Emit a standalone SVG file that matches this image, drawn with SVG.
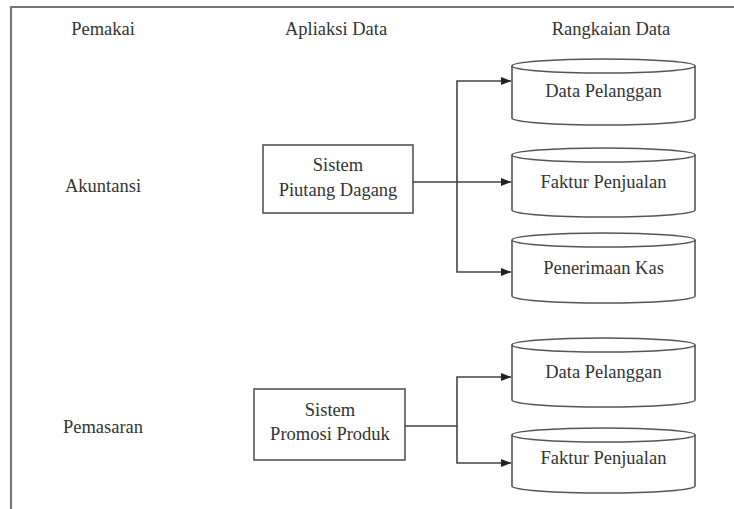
<svg xmlns="http://www.w3.org/2000/svg" width="734" height="509" viewBox="0 0 734 509">
<defs>
<style>
.t{font-size:18.5px;fill:#333;text-anchor:middle}
.shape{fill:#fff;stroke:#555;stroke-width:1.6}
.conn{fill:none;stroke:#444;stroke-width:1.6}
.frame{fill:none;stroke:#777;stroke-width:2.2}
</style>
<marker id="arr" viewBox="0 0 10 10" refX="10" refY="5" markerWidth="10" markerHeight="10" markerUnits="userSpaceOnUse" orient="auto">
<path d="M0,1 L10,5 L0,9 Z" fill="#222"/>
</marker>
</defs>
<rect width="734" height="509" fill="#fff"/>
<path class="frame" d="M11,509 V7 H734"/>
<g font-family="Liberation Serif, Times New Roman, serif">
<g id="headers">
<text class="t" x="103" y="35">Pemakai</text>
<text class="t" x="336" y="35">Apliaksi Data</text>
<text class="t" x="611" y="35">Rangkaian Data</text>
</g>

<g id="akuntansi"><text class="t" x="103" y="192">Akuntansi</text></g>
<g id="pemasaran"><text class="t" x="103" y="433">Pemasaran</text></g>

<g id="sistem-piutang">
<rect class="shape" x="263" y="145" width="150" height="68"/>
<text class="t" x="338" y="171">Sistem</text>
<text class="t" x="338" y="196">Piutang Dagang</text>
</g>

<g id="sistem-promosi">
<rect class="shape" x="254" y="389" width="151" height="71"/>
<text class="t" x="330" y="416">Sistem</text>
<text class="t" x="330" y="440">Promosi Produk</text>
</g>

<g id="cyl-data-pelanggan-1">
<path class="shape" d="M512,66 V118 A91.5,7 0 0 0 695,118 V66"/>
<ellipse class="shape" cx="603.5" cy="66" rx="91.5" ry="7"/>
<text class="t" x="603.5" y="97">Data Pelanggan</text>
</g>

<g id="cyl-faktur-1">
<path class="shape" d="M512,155 V210 A91.5,7 0 0 0 695,210 V155"/>
<ellipse class="shape" cx="603.5" cy="155" rx="91.5" ry="7"/>
<text class="t" x="603.5" y="188">Faktur Penjualan</text>
</g>

<g id="cyl-penerimaan-kas">
<path class="shape" d="M512,240 V296 A91.5,7 0 0 0 695,296 V240"/>
<ellipse class="shape" cx="603.5" cy="240" rx="91.5" ry="7"/>
<text class="t" x="603.5" y="274">Penerimaan Kas</text>
</g>

<g id="cyl-data-pelanggan-2">
<path class="shape" d="M512,345 V400 A91.5,7 0 0 0 695,400 V345"/>
<ellipse class="shape" cx="603.5" cy="345" rx="91.5" ry="7"/>
<text class="t" x="603.5" y="378">Data Pelanggan</text>
</g>

<g id="cyl-faktur-2">
<path class="shape" d="M512,435 V486 A91.5,7 0 0 0 695,486 V435"/>
<ellipse class="shape" cx="603.5" cy="435" rx="91.5" ry="7"/>
<text class="t" x="603.5" y="464">Faktur Penjualan</text>
</g>
</g>
<g id="connectors">
<path class="conn" d="M413,182 H511" marker-end="url(#arr)"/>
<path class="conn" d="M457,182 V81 H511" marker-end="url(#arr)"/>
<path class="conn" d="M457,182 V272 H511" marker-end="url(#arr)"/>
<path class="conn" d="M405,426 H457 V377 H511" marker-end="url(#arr)"/>
<path class="conn" d="M457,426 V463 H511" marker-end="url(#arr)"/>
</g>
</svg>
